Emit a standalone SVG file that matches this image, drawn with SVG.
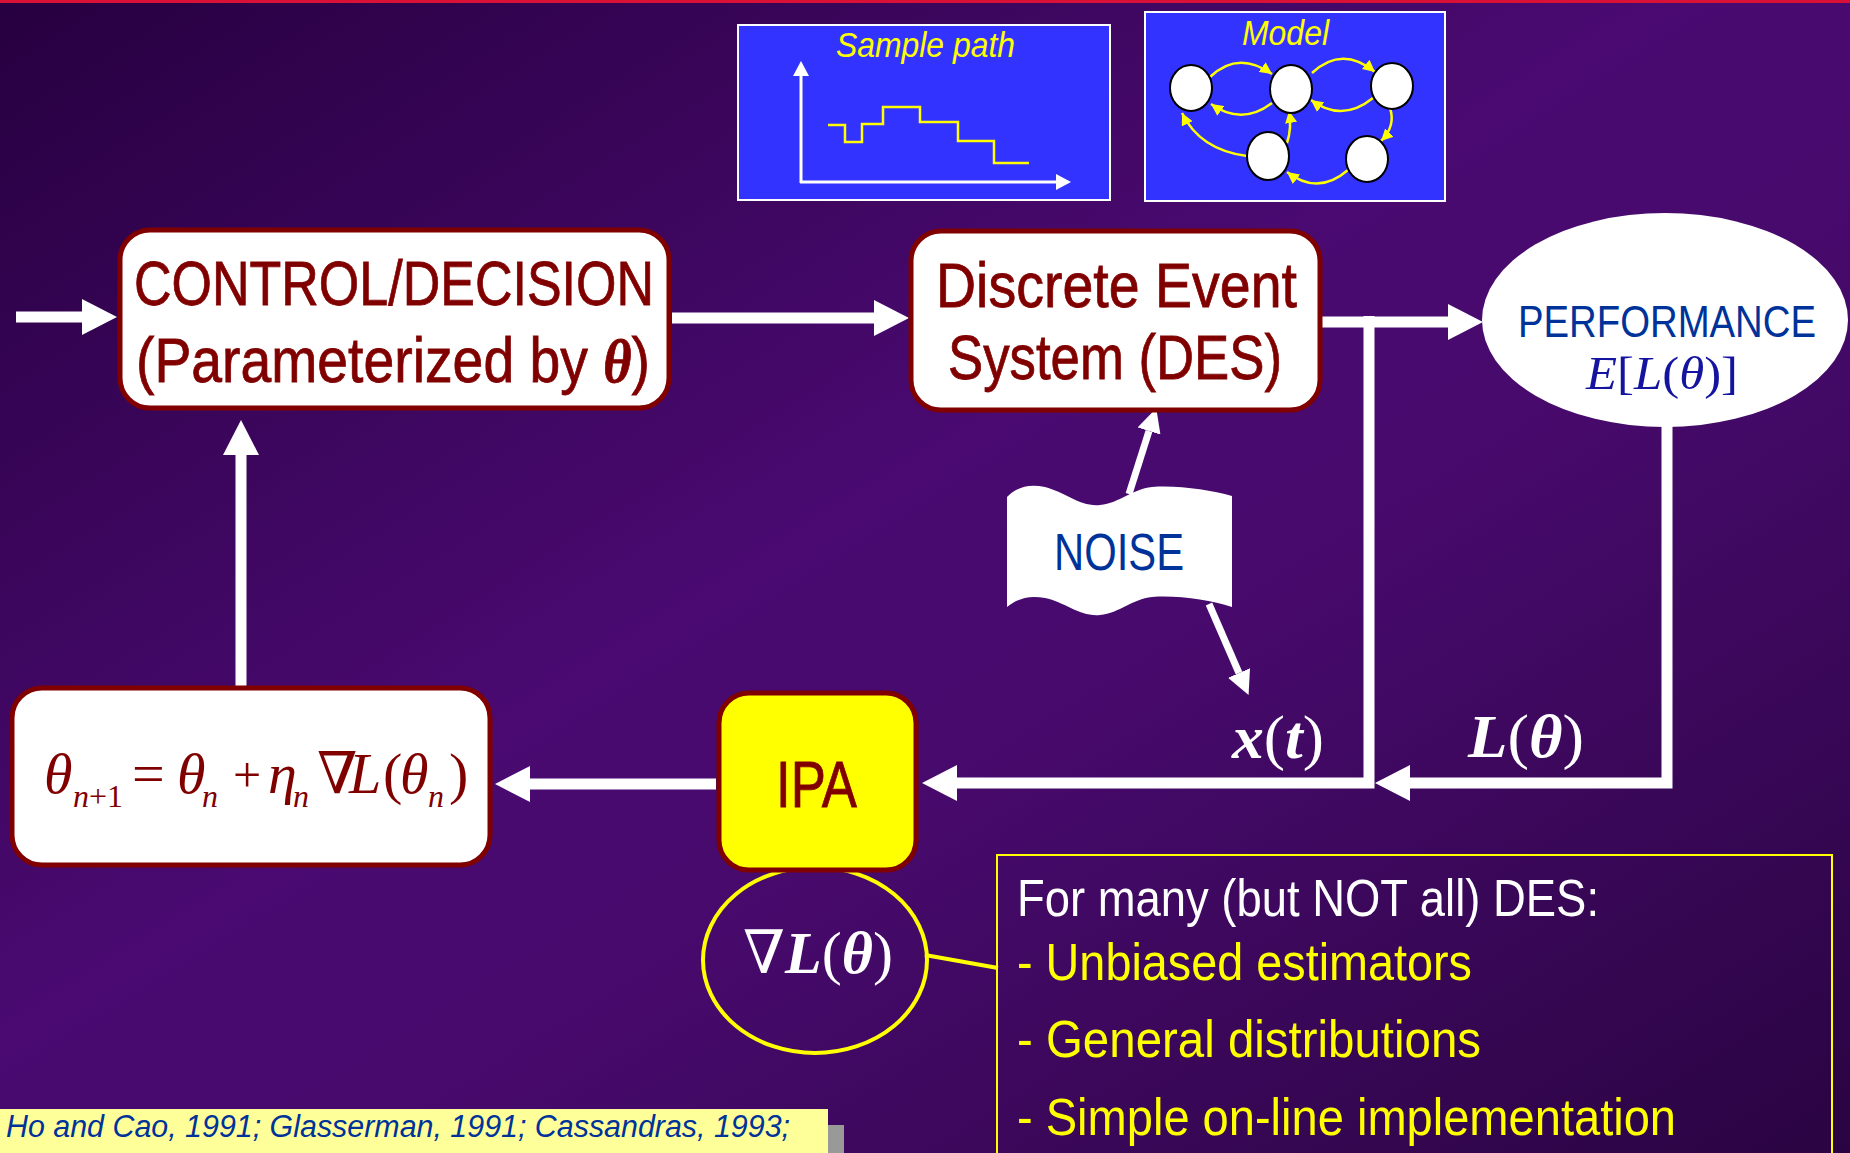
<svg xmlns="http://www.w3.org/2000/svg" width="1850" height="1153" viewBox="0 0 1850 1153">
  <defs>
    <linearGradient id="bg" x1="0" y1="0" x2="1" y2="1">
      <stop offset="0" stop-color="#270040"/>
      <stop offset="0.45" stop-color="#4a0a71"/>
      <stop offset="0.6" stop-color="#470a6c"/>
      <stop offset="1" stop-color="#2a0442"/>
    </linearGradient>
    <marker id="head" viewBox="0 0 35 36" markerWidth="35" markerHeight="36" refX="0" refY="18" orient="auto" markerUnits="userSpaceOnUse">
      <path d="M0,0 L35,18 L0,36 Z" fill="#ffffff"/>
    </marker>
    <marker id="headSm" viewBox="0 0 24 24" markerWidth="24" markerHeight="24" refX="0" refY="12" orient="auto" markerUnits="userSpaceOnUse">
      <path d="M0,0 L24,12 L0,24 Z" fill="#ffffff"/>
    </marker>
    <marker id="axisHead" viewBox="0 0 15 16" markerWidth="15" markerHeight="16" refX="0" refY="8" orient="auto" markerUnits="userSpaceOnUse">
      <path d="M0,0 L15,8 L0,16 Z" fill="#ffffff"/>
    </marker>
    <marker id="yHead" viewBox="0 0 12 12" markerWidth="12" markerHeight="12" refX="12" refY="6" orient="auto" markerUnits="userSpaceOnUse">
      <path d="M0,0 L12,6 L0,12 Z" fill="#ffff00"/>
    </marker>
  </defs>
  <style>
    .sans { font-family: "Liberation Sans Narrow", "Liberation Sans", Arial, sans-serif; }
    .math { font-family: "Liberation Serif", "DejaVu Serif", "Times New Roman", serif; }
    .box { fill: #ffffff; stroke: #800000; stroke-width: 5; }
    .ipa { fill: #ffff00; stroke: #800000; stroke-width: 5; }
    .dark { fill: #800000; }
    .heavy { stroke: #800000; stroke-width: 0.8; }
    .blue { fill: #003399; }
    .wire { stroke: #ffffff; stroke-width: 11; fill: none; }
    .thin { stroke: #ffffff; stroke-width: 7; fill: none; }
    .panel { fill: #3333ff; stroke: #ffffff; stroke-width: 2; }
    .state { fill: #ffffff; stroke: #000000; stroke-width: 2; }
    .trans { stroke: #ffff00; stroke-width: 2.5; fill: none; marker-end: url(#yHead); }
    .it { font-style: italic; }
    .bi { font-style: italic; font-weight: bold; }
  </style>

  <!-- slide background -->
  <rect x="0" y="0" width="1850" height="1153" fill="url(#bg)"/>
  <rect x="0" y="0" width="1850" height="3" fill="#d91136"/>

  <!-- sample path panel -->
  <g id="sample-path">
    <rect class="panel" x="738" y="25" width="372" height="175"/>
    <text class="sans it" x="836" y="57" font-size="35" fill="#ffff00" textLength="179" lengthAdjust="spacingAndGlyphs">Sample path</text>
    <line x1="801" y1="183" x2="801" y2="76" stroke="#ffffff" stroke-width="3" marker-end="url(#axisHead)"/>
    <line x1="800" y1="182" x2="1056" y2="182" stroke="#ffffff" stroke-width="3" marker-end="url(#axisHead)"/>
    <polyline points="828,125 845,125 845,142 862,142 862,124 883,124 883,107 920,107 920,122 958,122 958,141 994,141 994,163 1029,163" fill="none" stroke="#ffff00" stroke-width="2.5"/>
  </g>

  <!-- state model panel -->
  <g id="model">
    <rect class="panel" x="1145" y="12" width="300" height="189"/>
    <text class="sans it" x="1242" y="45" font-size="35" fill="#ffff00" textLength="87" lengthAdjust="spacingAndGlyphs">Model</text>
    <path class="trans" d="M1210,77 Q1238,50 1272,74"/>
    <path class="trans" d="M1272,103 Q1242,126 1211,104"/>
    <path class="trans" d="M1312,73 Q1342,45 1375,72"/>
    <path class="trans" d="M1373,98 Q1342,123 1311,100"/>
    <path class="trans" d="M1390,108 Q1396,126 1381,141"/>
    <path class="trans" d="M1348,170 Q1318,196 1287,172"/>
    <path class="trans" d="M1287,143 Q1292,128 1289,111"/>
    <path class="trans" d="M1247,156 Q1200,150 1182,113"/>
    <ellipse class="state" cx="1191" cy="88" rx="21" ry="23"/>
    <ellipse class="state" cx="1291" cy="89" rx="21" ry="24"/>
    <ellipse class="state" cx="1392" cy="86" rx="21" ry="23"/>
    <ellipse class="state" cx="1268" cy="156" rx="21" ry="24"/>
    <ellipse class="state" cx="1367" cy="159" rx="21" ry="23"/>
  </g>

  <!-- connectors -->
  <g id="connectors">
    <line class="wire" x1="16" y1="317" x2="82" y2="317" marker-end="url(#head)"/>
    <line class="wire" x1="672" y1="318" x2="874" y2="318" marker-end="url(#head)"/>
    <line class="wire" x1="1322" y1="322" x2="1448" y2="322" marker-end="url(#head)"/>
    <path class="wire" d="M1369,316 V783 H957" marker-end="url(#head)"/>
    <path class="wire" d="M1667,424 V783 H1410" marker-end="url(#head)"/>
    <line class="wire" x1="716" y1="784" x2="530" y2="784" marker-end="url(#head)"/>
    <line class="wire" x1="241" y1="687" x2="241" y2="455" marker-end="url(#head)"/>
    <line class="thin" x1="1129" y1="494" x2="1149" y2="431" marker-end="url(#headSm)"/>
    <line class="thin" x1="1209" y1="604" x2="1239" y2="673" marker-end="url(#headSm)"/>
    <line x1="925" y1="955" x2="998" y2="968" stroke="#ffff00" stroke-width="4"/>
  </g>

  <!-- controller -->
  <g id="control">
    <rect class="box" x="120" y="230" width="549" height="178" rx="30" ry="30"/>
    <text class="sans dark heavy" x="134" y="305" font-size="63" textLength="520" lengthAdjust="spacingAndGlyphs">CONTROL/DECISION</text>
    <text class="sans dark heavy" x="136" y="382" font-size="63" textLength="514" lengthAdjust="spacingAndGlyphs">(Parameterized by <tspan class="math bi" font-size="62">θ</tspan>)</text>
  </g>

  <!-- discrete event system -->
  <g id="des">
    <rect class="box" x="911" y="231" width="409" height="179" rx="30" ry="30"/>
    <text class="sans dark heavy" x="936" y="307" font-size="63" textLength="361" lengthAdjust="spacingAndGlyphs">Discrete Event</text>
    <text class="sans dark heavy" x="948" y="379" font-size="63" textLength="334" lengthAdjust="spacingAndGlyphs">System (DES)</text>
  </g>

  <!-- performance measure -->
  <g id="performance">
    <ellipse cx="1665" cy="320" rx="183" ry="107" fill="#ffffff"/>
    <text class="sans blue" x="1518" y="337" font-size="44" textLength="298" lengthAdjust="spacingAndGlyphs">PERFORMANCE</text>
    <text class="math" x="1586" y="389" font-size="47" fill="#1414a0" textLength="152" lengthAdjust="spacingAndGlyphs"><tspan class="it">E</tspan>[<tspan class="it">L</tspan>(<tspan class="it">θ</tspan>)]</text>
  </g>

  <!-- noise input -->
  <g id="noise">
    <path d="M1007,497 C1018,486 1030,484 1045,487 C1065,492 1080,507 1100,505 C1120,503 1132,489 1152,487 C1178,485 1210,490 1232,496 V607 C1210,600 1178,595 1152,597 C1132,599 1120,613 1100,615 C1080,617 1065,602 1045,598 C1030,595 1018,598 1007,607 Z" fill="#ffffff"/>
    <text class="sans blue" x="1054" y="570" font-size="52" textLength="130" lengthAdjust="spacingAndGlyphs">NOISE</text>
  </g>

  <!-- signal labels -->
  <g id="labels">
    <text class="math" x="1232" y="758" font-size="62" fill="#ffffff" textLength="92" lengthAdjust="spacingAndGlyphs"><tspan class="bi">x</tspan>(<tspan class="bi">t</tspan>)</text>
    <text class="math" x="1468" y="757" font-size="62" fill="#ffffff" textLength="116" lengthAdjust="spacingAndGlyphs"><tspan class="bi">L</tspan>(<tspan class="bi">θ</tspan>)</text>
  </g>

  <!-- gradient estimate bubble -->
  <g id="gradient">
    <ellipse cx="815" cy="960" rx="112" ry="93" fill="none" stroke="#ffff00" stroke-width="4"/>
    <text class="math" x="743" y="973" font-size="60" fill="#ffffff" textLength="150" lengthAdjust="spacingAndGlyphs">∇<tspan class="bi">L</tspan>(<tspan class="bi">θ</tspan>)</text>
  </g>

  <!-- IPA estimator -->
  <g id="ipa">
    <rect class="ipa" x="719" y="693" width="197" height="177" rx="30" ry="30"/>
    <text class="sans dark heavy" x="776" y="807" font-size="64" textLength="81" lengthAdjust="spacingAndGlyphs">IPA</text>
  </g>

  <!-- parameter update -->
  <g id="update">
    <rect class="box" x="12" y="688" width="478" height="177" rx="30" ry="30"/>
    <text class="math dark" font-size="58">
      <tspan class="it" x="44" y="793">θ</tspan>
      <tspan class="it" x="73" y="807" font-size="32">n</tspan><tspan x="89" y="807" font-size="32">+1</tspan>
      <tspan x="132" y="793">=</tspan>
      <tspan class="it" x="177" y="793">θ</tspan>
      <tspan class="it" x="202" y="807" font-size="32">n</tspan>
      <tspan x="233" y="792" font-size="50">+</tspan>
      <tspan class="it" x="268" y="793">η</tspan>
      <tspan class="it" x="293" y="807" font-size="32">n</tspan>
      <tspan x="317" y="793">∇</tspan>
      <tspan class="it" x="349" y="793">L</tspan>
      <tspan x="383" y="793">(</tspan>
      <tspan class="it" x="400" y="793">θ</tspan>
      <tspan class="it" x="428" y="807" font-size="32">n</tspan>
      <tspan x="449" y="793">)</tspan>
    </text>
  </g>

  <!-- properties note -->
  <g id="notes">
    <rect x="997" y="855" width="835" height="320" fill="none" stroke="#ffff00" stroke-width="2"/>
    <text class="sans" x="1017" y="916" font-size="52" fill="#ffffff" textLength="582" lengthAdjust="spacingAndGlyphs">For many (but NOT all) DES:</text>
    <text class="sans" x="1017" y="980" font-size="52" fill="#ffff00" textLength="455" lengthAdjust="spacingAndGlyphs">- Unbiased estimators</text>
    <text class="sans" x="1017" y="1057" font-size="52" fill="#ffff00" textLength="464" lengthAdjust="spacingAndGlyphs">- General distributions</text>
    <text class="sans" x="1017" y="1135" font-size="52" fill="#ffff00" textLength="659" lengthAdjust="spacingAndGlyphs">- Simple on-line implementation</text>
  </g>

  <!-- references -->
  <g id="citation">
    <rect x="16" y="1125" width="828" height="40" fill="#999999"/>
    <rect x="0" y="1109" width="828" height="50" fill="#ffff99"/>
    <text class="sans it blue" x="6" y="1137" font-size="31" textLength="784" lengthAdjust="spacingAndGlyphs">Ho and Cao, 1991; Glasserman, 1991; Cassandras, 1993;</text>
  </g>
</svg>
